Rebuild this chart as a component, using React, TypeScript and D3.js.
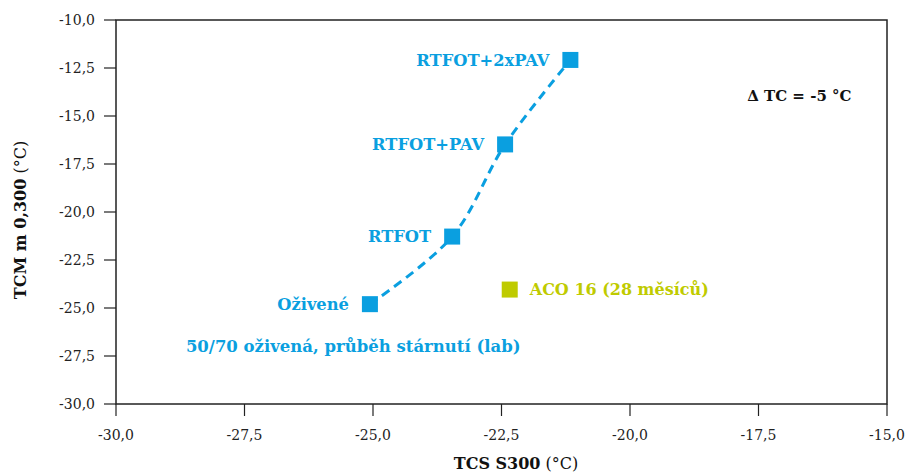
import React from 'react';
import * as d3 from 'd3';

const labLabels = ['Oživené', 'RTFOT', 'RTFOT+PAV', 'RTFOT+2xPAV'];
const labTcs = [-25.06, -23.46, -22.43, -21.16];
const labTcm = [-24.8, -21.28, -16.48, -12.08];

const fieldLabels = ['ACO 16 (28 měsíců)'];
const fieldTcs = [-22.34];
const fieldTcm = [-24.04];

const xTicks = [-30, -27.5, -25, -22.5, -20, -17.5, -15];
const yTicks = [-10, -12.5, -15, -17.5, -20, -22.5, -25, -27.5, -30];

const BLUE = '#0a9fe0';
const GREEN = '#bfcb00';
const SERIF = "'DejaVu Serif', serif";

const fmt = (v: number) => v.toFixed(1).replace('.', ',');

const App = () => {
  const width = 905;
  const height = 472;
  const margin = { top: 20, right: 18, bottom: 68, left: 116 };
  const iw = 887 - margin.left;
  const ih = 404 - margin.top;

  const x = d3.scaleLinear().domain([-30, -15]).range([0, iw]);
  const y = d3.scaleLinear().domain([-30, -10]).range([ih, 0]);

  const lab = labLabels.map((name, i) => ({ name, tcs: labTcs[i], tcm: labTcm[i] }));
  const field = fieldLabels.map((name, i) => ({ name, tcs: fieldTcs[i], tcm: fieldTcm[i] }));

  const line = d3.line<{ tcs: number; tcm: number }>()
    .x(d => x(d.tcs))
    .y(d => y(d.tcm))
    .curve(d3.curveCatmullRom.alpha(0.5));

  const sq = 16;

  return (
    <svg width={width} height={height} style={{ position: 'absolute', left: 0, top: 0 }}
      fontFamily={SERIF}>
      <rect width={width} height={height} fill="#fff" />
      <g transform={`translate(${margin.left},${margin.top})`}>
        {/* frame */}
        <rect x={0} y={0} width={iw} height={ih} fill="none" stroke="#222" strokeWidth={1.5} />
        {/* y axis ticks */}
        {yTicks.map(t => (
          <g key={t} transform={`translate(0,${y(t)})`}>
            <line x1={-12} x2={0} stroke="#222" strokeWidth={1.2} />
            <text x={-21} dy="0.35em" textAnchor="end" fontSize={14} fill="#222">{fmt(t)}</text>
          </g>
        ))}
        {/* x axis ticks */}
        {xTicks.map(t => (
          <g key={t} transform={`translate(${x(t)},${ih})`}>
            <line y1={0} y2={12} stroke="#222" strokeWidth={1.2} />
            <text y={36} textAnchor="middle" fontSize={14} fill="#222">{fmt(t)}</text>
          </g>
        ))}

        <path d={line(lab) || ''} fill="none" stroke={BLUE} strokeWidth={3}
          strokeDasharray="9,6" />

        {lab.map(d => (
          <g key={d.name}>
            <rect x={x(d.tcs) - sq / 2} y={y(d.tcm) - sq / 2} width={sq} height={sq} fill={BLUE} />
            <text x={x(d.tcs) - 21} y={y(d.tcm)} dy="0.35em" textAnchor="end"
              fontSize={16.3} fontWeight="bold" fill={BLUE}>{d.name}</text>
          </g>
        ))}
        {field.map(d => (
          <g key={d.name}>
            <rect x={x(d.tcs) - sq / 2} y={y(d.tcm) - sq / 2} width={sq} height={sq} fill={GREEN} />
            <text x={x(d.tcs) + 20} y={y(d.tcm)} dy="0.35em" textAnchor="start"
              fontSize={16} fontWeight="bold" fill={GREEN}>{d.name}</text>
          </g>
        ))}

        <text x={x(-28.64)} y={y(-27.0)} dy="0.35em" fontSize={16.5} fontWeight="bold" fill={BLUE}>
          50/70 oživená, průběh stárnutí (lab)
        </text>
        <text x={x(-17.72)} y={y(-13.97)} dy="0.35em" fontSize={15} fontWeight="bold" fill="#111">
          Δ TC = -5 °C
        </text>
      </g>

      <text x={516} y={469} textAnchor="middle" fontSize={16} fill="#111">
        <tspan fontWeight="bold">TCS S300</tspan>
        <tspan> (°C)</tspan>
      </text>
      <text transform="translate(26,220) rotate(-90)" textAnchor="middle" fontSize={16} fill="#111">
        <tspan fontWeight="bold">TCM m 0,300</tspan>
        <tspan> (°C)</tspan>
      </text>
    </svg>
  );
};

export default App;
